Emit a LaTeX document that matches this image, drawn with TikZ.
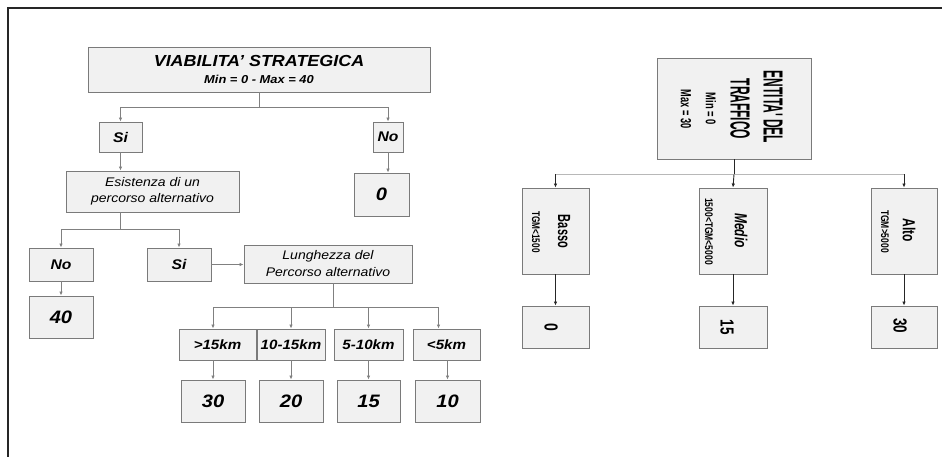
\documentclass[tikz,border=0pt]{standalone}
\usepackage{fontspec}
\setmainfont{Liberation Sans}[FakeStretch=1.12]
\newfontfamily\rfont{Liberation Sans}
\usetikzlibrary{arrows.meta,calc}
\definecolor{boxfill}{HTML}{F1F1F1}
\definecolor{boxline}{HTML}{7A7A7A}
\definecolor{connc}{HTML}{808080}
\definecolor{barc}{HTML}{B8B8B8}
\newcommand{\fs}[1]{\fontsize{#1}{#1}\selectfont}
\begin{document}
\begin{tikzpicture}[x=1pt,y=-1pt,
  bx/.style={draw=boxline, fill=boxfill, line width=0.9pt, inner sep=0pt, align=center},
  ltxt/.style={font=\bfseries\itshape},
  lconn/.style={draw=connc, line width=0.9pt},
  larr/.style={draw=connc, line width=0.9pt, -{Latex[length=4pt,width=3.5pt]}},
  rconn/.style={draw=black!85, line width=0.9pt},
  rbar/.style={draw=barc, line width=1pt},
  rarr/.style={draw=black!85, line width=0.9pt, -{Latex[length=4pt,width=3.5pt]}},
  rt/.style={rotate=-90, inner sep=0pt, font=\rfont\bfseries}
]
\useasboundingbox (0,0) rectangle (942,457);
% frame
\coordinate (fa) at (8,457);
\coordinate (fb) at (8,8);
\coordinate (fc) at (942,8);
\draw[line width=1.6pt, black!85] (fa) -- (fb) -- (fc);

% ---------------- left tree ----------------
\node[bx, minimum width=342, minimum height=45, font=\bfseries\itshape\fontsize{16}{17}\selectfont] (vs) at (259,69.5)
  {VIABILITA' STRATEGICA\\{\fs{11.5}Min = 0 - Max = 40}};
\node[bx, minimum width=43, minimum height=30, ltxt] (si1) at (120.5,137) {\fs{14}Si};
\node[bx, minimum width=30, minimum height=30, ltxt] (no1) at (388,137) {\fs{14}No};
\node[bx, minimum width=173, minimum height=41, font=\itshape\fontsize{12.5}{16}\selectfont] (es) at (152.5,191.5)
  {Esistenza di un\\percorso alternativo};
\node[bx, minimum width=55, minimum height=43, ltxt] (z0) at (381.5,194.5) {\fs{18}0};
\node[bx, minimum width=64, minimum height=33, ltxt] (no2) at (61,264.5) {\fs{14}No};
\node[bx, minimum width=64, minimum height=33, ltxt] (si2) at (179,264.5) {\fs{14}Si};
\node[bx, minimum width=168, minimum height=38, font=\itshape\fontsize{12.5}{17}\selectfont] (lu) at (328,264)
  {Lunghezza del\\Percorso alternativo};
\node[bx, minimum width=64, minimum height=42, ltxt] (v40) at (61,317) {\fs{18}40};
\node[bx, minimum width=77, minimum height=31, ltxt] (r1) at (217.5,344.5) {\fs{13.5}>15km};
\node[bx, minimum width=68, minimum height=31, ltxt] (r2) at (291,344.5) {\fs{13.5}10-15km};
\node[bx, minimum width=69, minimum height=31, ltxt] (r3) at (368.5,344.5) {\fs{13.5}5-10km};
\node[bx, minimum width=67, minimum height=31, ltxt] (r4) at (446.5,344.5) {\fs{13.5}<5km};
\node[bx, minimum width=64, minimum height=42, ltxt] (v30) at (213,401) {\fs{18}30};
\node[bx, minimum width=64, minimum height=42, ltxt] (v20) at (291,401) {\fs{18}20};
\node[bx, minimum width=63, minimum height=42, ltxt] (v15) at (368.5,401) {\fs{18}15};
\node[bx, minimum width=65, minimum height=42, ltxt] (v10) at (447.5,401) {\fs{18}10};

% left connectors
\draw[lconn] (vs.south) -- ++(0,15) coordinate (j1);
\draw[larr] (j1) -| (si1.north);
\draw[larr] (j1) -| (no1.north);
\draw[larr] (si1.south) -- (es.north -| si1.south);
\draw[larr] (no1.south) -- (z0.north -| no1.south);
\draw[lconn] (es.south -| si1.south) -- ++(0,17) coordinate (j2);
\draw[larr] (j2) -| (no2.north);
\draw[larr] (j2) -| (si2.north);
\draw[larr] (si2.east) -- (lu.west |- si2.east);
\draw[larr] (no2.south) -- (v40.north);
\draw[lconn] ($(lu.south)+(5,0)$) coordinate (lus) -- ++(0,24) coordinate (j3);
\draw[larr] (j3) -| (r1.north -| v30.north);
\draw[larr] (j3) -| (r2.north);
\draw[larr] (j3) -| (r3.north);
\draw[larr] (j3) -| ($(r4.north)+(-8,0)$);
\draw[larr] (r1.south -| v30.north) -- (v30.north);
\draw[larr] (r2.south) -- (v20.north);
\draw[larr] (r3.south) -- (v15.north);
\draw[larr] (r4.south -| v10.north) -- (v10.north);

% ---------------- right tree ----------------
\node[bx, minimum width=154, minimum height=101] (en) at (734,108.5) {};
\node[rt] (en1) at (773,107) {\fs{12}\scalebox{1}[2.3]{ENTITA' DEL}};
\node[rt] (en2) at (740,109) {\fs{12}\scalebox{1}[2.3]{TRAFFICO}};
\node[rt] (en3) at (711,109) {\fs{9.4}\scalebox{1}[1.5]{Min = 0}};
\node[rt] (en4) at (686,109) {\fs{9.2}\scalebox{1}[1.6]{Max = 30}};

\node[bx, minimum width=67, minimum height=86] (ba) at (555.5,231) {};
\node[bx, minimum width=68, minimum height=86] (me) at (733,231) {};
\node[bx, minimum width=66, minimum height=86] (al) at (904,231) {};
\node[rt] (ba1) at (564,231.5) {\fs{11}\scalebox{1}[1.6]{Basso}};
\node[rt] (ba2) at (536,232) {\fs{8.2}\scalebox{1}[1.35]{TGM<1500}};
\node[rt] (me1) at (741,230.5) {\fs{12}\itshape\scalebox{1}[1.45]{Medio}};
\node[rt] (me2) at (709,231.5) {\fs{8.5}\scalebox{1}[1.3]{1500<TGM<5000}};
\node[rt] (al1) at (909,230.5) {\fs{12}\scalebox{1}[1.45]{Alto}};
\node[rt] (al2) at (885,231.5) {\fs{8.5}\scalebox{1}[1.3]{TGM>5000}};

\node[bx, minimum width=67, minimum height=42] (zb) at (555.5,327) {};
\node[bx, minimum width=68, minimum height=42] (zm) at (733,327) {};
\node[bx, minimum width=66, minimum height=42] (za) at (904,327) {};
\node[rt] (zb1) at (551,327.5) {\fs{14}\scalebox{1}[1.35]{0}};
\node[rt] (zm1) at (727,327.5) {\fs{13.5}\scalebox{1}[1.4]{15}};
\node[rt] (za1) at (900,326) {\fs{13.5}\scalebox{1}[1.4]{30}};

% right connectors
\draw[rconn] (en.south) -- ++(0,15) coordinate (j5);
\draw[rbar] (j5 -| ba.north) -- (j5 -| al.north);
\draw[rarr] (j5 -| ba.north) -- (ba.north);
\draw[rarr] (j5) -- (me.north);
\draw[rarr] (j5 -| al.north) -- (al.north);
\draw[rarr] (ba.south) -- (zb.north);
\draw[rarr] (me.south) -- (zm.north);
\draw[rarr] (al.south) -- (za.north);
\end{tikzpicture}
\end{document}
